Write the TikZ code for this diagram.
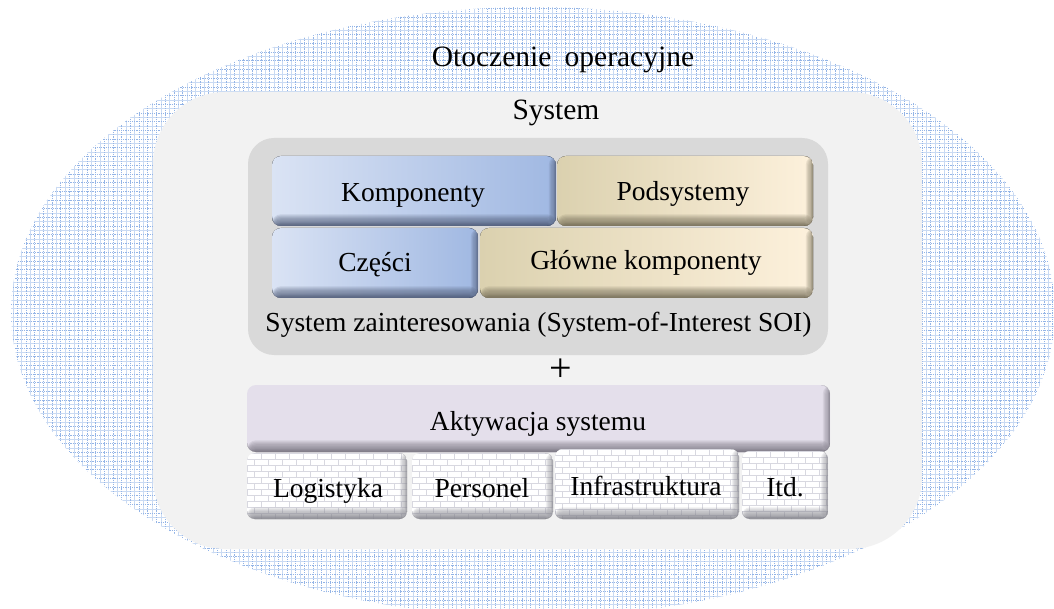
\documentclass[tikz,border=0pt]{standalone}
\usepackage{fontspec}
\setmainfont{Liberation Serif}
\usetikzlibrary{calc}

\definecolor{gridblue}{HTML}{93B4E6}
\definecolor{gridfaint}{HTML}{C9DAF3}
\definecolor{sysgray}{HTML}{F2F2F2}
\definecolor{soigray}{HTML}{D9D9D9}
\definecolor{blueL}{HTML}{DAE3F4}
\definecolor{blueR}{HTML}{A0B8E2}
\definecolor{blueD}{HTML}{4E5A76}
\definecolor{tanL}{HTML}{DBD1AF}
\definecolor{tanR}{HTML}{FDF1DC}
\definecolor{tanD}{HTML}{736C57}
\definecolor{lilac}{HTML}{E4DFEB}
\definecolor{lilacD}{HTML}{75717D}
\definecolor{brickline}{HTML}{D8D8E0}
\definecolor{brickD}{HTML}{86868E}

\newcommand\titlefont{\fontsize{29.5}{34}\selectfont}
\newcommand\boxfont{\fontsize{27.5}{32}\selectfont}
\newcommand\plusfont{\fontsize{40}{44}\selectfont}

% darkened bottom and right rims of a raised tile, built from
% stacked translucent strips
\newcommand\tilerim[1]{%
  \coordinate (bbSW) at (bbNW |- bbSE);
  \coordinate (bbNE) at (bbSE |- bbNW);
  \foreach \k in {1,...,9}{
    \fill[#1, fill opacity=0.14] (bbSW) rectangle ($(bbSE)+(0pt,\k*1.3pt)$);
  }
  \foreach \k in {1,...,3}{
    \fill[#1, fill opacity=0.17] (bbSW) rectangle ($(bbSE)+(0pt,\k*1pt)$);
  }
  \foreach \k in {1,...,6}{
    \fill[#1, fill opacity=0.13] ($(bbNE)+(-\k*1.2pt,0pt)$) rectangle (bbSE);
  }
  \foreach \k in {1,...,2}{
    \fill[#1, fill opacity=0.17] ($(bbNE)+(-\k*1pt,0pt)$) rectangle (bbSE);
  }
}

\tikzset{
  tile/.style n args={4}{% left colour, right colour, edge colour, corner radius
    rounded corners=#4, inner sep=0pt,
    path picture={
      \coordinate (bbNW) at (path picture bounding box.north west);
      \coordinate (bbSE) at (path picture bounding box.south east);
      \fill[left color=#1, right color=#2] (bbNW) rectangle (bbSE);
      \tilerim{#3}
    }
  },
  bluetile/.style={tile={blueL}{blueR}{blueD}{9pt}},
  tantile/.style={tile={tanL}{tanR}{tanD}{9pt}},
  lilactile/.style={
    rounded corners=9pt, inner sep=0pt, fill=lilac,
    path picture={
      \coordinate (bbNW) at (path picture bounding box.north west);
      \coordinate (bbSE) at (path picture bounding box.south east);
      \tilerim{lilacD}
    }
  },
  bricktile/.style={
    rounded corners=8pt, inner sep=0pt,
    path picture={
      \coordinate (bbNW) at (path picture bounding box.north west);
      \coordinate (bbSE) at (path picture bounding box.south east);
      \fill[white] (bbNW) rectangle (bbSE);
      \foreach \r in {0,...,12}{
        \draw[brickline, line width=0.9pt] ($(bbNW)+(0pt,-\r*6pt)$) -- ++(190pt,0pt);
        \pgfmathsetmacro\shift{mod(\r,2)*7}
        \foreach \c in {0,...,14}{
          \draw[brickline, line width=0.9pt]
            ($(bbNW)+(\c*14pt+\shift pt,-\r*6pt)$) -- ++(0pt,-6pt);
        }
      }
      \tilerim{brickD}
    }
  },
  lbl/.style={anchor=base, inner sep=0pt, font=\boxfont},
}

\begin{document}
\begin{tikzpicture}[x=1pt, y=-1pt]
  \useasboundingbox (0,0) rectangle (1054,609);
  \fill[white] (0,0) rectangle (1054,609);

  % operating environment: squared paper ellipse
  \begin{scope}
    \clip (533,312) ellipse [x radius=522, y radius=305];
    \foreach \i in {0,...,122}{
      \draw[gridfaint, line width=0.8pt] (\i*8.7+4.35,0) -- (\i*8.7+4.35,609);
    }
    \foreach \i in {0,...,71}{
      \draw[gridfaint, line width=0.8pt] (0,\i*8.7+4.35) -- (1054,\i*8.7+4.35);
    }
    \foreach \i in {0,...,122}{
      \draw[gridblue, line width=0.9pt, dash pattern=on 1.2pt off 1pt] (\i*8.7,0) -- (\i*8.7,609);
    }
    \foreach \i in {0,...,71}{
      \draw[gridblue, line width=0.9pt, dash pattern=on 1.2pt off 1pt] (0,\i*8.7) -- (1054,\i*8.7);
    }
  \end{scope}
  \node[anchor=base, inner sep=0pt, font=\titlefont] (env) at (563,67) {Otoczenie\hspace{0.45em}operacyjne};

  % system
  \node[fill=sysgray, rounded corners=72pt, inner sep=0pt,
        minimum width=769pt, minimum height=457pt] (sys) at (537.5,320.5) {};
  \node[anchor=base, inner sep=0pt, font=\titlefont] (systitle) at (556,120) {System};

  % system of interest
  \node[fill=soigray, rounded corners=26pt, inner sep=0pt,
        minimum width=580pt, minimum height=217pt] (soi) at (538,246.5) {};

  \node[bluetile, minimum width=284pt, minimum height=70pt] (komp) at (414,191) {};
  \node[tantile,  minimum width=256pt, minimum height=70pt] (pods) at (685,191) {};
  \node[bluetile, minimum width=206pt, minimum height=70pt] (czes) at (375,263) {};
  \node[tantile,  minimum width=333pt, minimum height=70pt] (glow) at (646.5,263) {};

  \node[lbl] (kompT) at (413,202) {Komponenty};
  \node[lbl] (podsT) at (683,201) {Podsystemy};
  \node[lbl] (czesT) at (375,272) {Części};
  \node[lbl] (glowT) at (646,270) {Główne komponenty};
  \node[lbl] (soiT) at (538.5,331) {System zainteresowania (System-of-Interest SOI)};

  \node[inner sep=0pt, font=\plusfont] (plus) at (561,370) {+};

  % enabling system
  \node[lilactile, minimum width=583pt, minimum height=67pt] (akt) at (538.5,418.5) {};
  \node[lbl] (aktT) at (538,430) {Aktywacja systemu};

  \node[bricktile, minimum width=160pt, minimum height=66pt] (log) at (327,486) {};
  \node[bricktile, minimum width=141pt, minimum height=66pt] (pers) at (482.5,486) {};
  \node[bricktile, minimum width=184pt, minimum height=70pt] (infra) at (647,484) {};
  \node[bricktile, minimum width=86pt,  minimum height=68pt] (itd) at (785,485) {};

  \node[lbl] (logT) at (328,497) {Logistyka};
  \node[lbl] (persT) at (482,497) {Personel};
  \node[lbl] (infraT) at (646,495) {Infrastruktura};
  \node[lbl] (itdT) at (785,496) {Itd.};
\end{tikzpicture}
\end{document}
